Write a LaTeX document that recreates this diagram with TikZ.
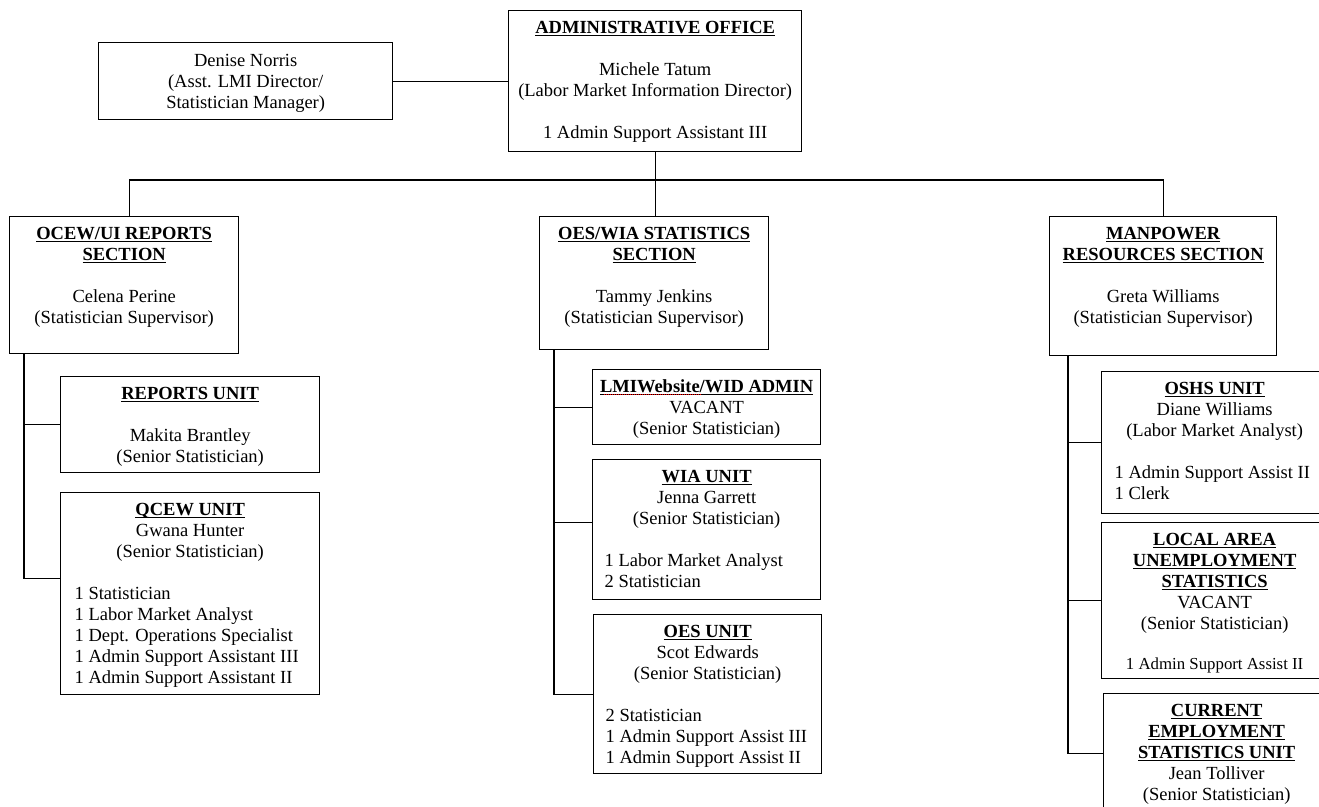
\documentclass[tikz,border=0pt]{standalone}
\usepackage{fontspec}
\setmainfont{Liberation Serif}

\newcommand{\unittitle}[1]{\textbf{\underline{\smash{#1}}}}
\newcommand{\orgtext}[4][8.4]{\parbox[c][#3pt][t]{#2pt}{\centering\vspace*{#1pt}\strut#4}}

\begin{document}
\begin{tikzpicture}[x=1pt, y=-1pt,
  orgbox/.style = {draw, line width=1.3pt, anchor=north west,
    inner sep=0pt, font={\fontsize{18.5}{21}\selectfont}},
  link/.style = {line width=1.3pt}]
  \useasboundingbox (0,0) rectangle (1319,806);
  \clip (0,0) rectangle (1319,806);

  % top
  \node[orgbox] (denise) at (98,42) {\orgtext[9.4]{294}{77}{Denise Norris\\
    (Asst. LMI Director/\\ Statistician Manager)}};
  \node[orgbox] (admin) at (508,10) {\orgtext{293}{141}{\unittitle{ADMINISTRATIVE OFFICE}\\[21pt]
    Michele Tatum\\ (Labor Market Information Director)\\[21pt]
    1 Admin Support Assistant III}};

  % sections
  \node[orgbox] (ocew) at (9,216) {\orgtext{229}{137}{\unittitle{OCEW/UI REPORTS}\\
    \unittitle{SECTION}\\[21pt] Celena Perine\\ (Statistician Supervisor)}};
  \node[orgbox] (oeswia) at (539,216) {\orgtext{229}{133}{\unittitle{OES/WIA STATISTICS}\\
    \unittitle{SECTION}\\[21pt] Tammy Jenkins\\ (Statistician Supervisor)}};
  \node[orgbox] (manpower) at (1049,216) {\orgtext{227}{139}{\unittitle{MANPOWER}\\
    \unittitle{RESOURCES SECTION}\\[21pt] Greta Williams\\ (Statistician Supervisor)}};

  % units, left
  \node[orgbox] (reports) at (60,376) {\orgtext{259}{96}{\unittitle{REPORTS UNIT}\\[21pt]
    Makita Brantley\\ (Senior Statistician)}};
  \node[orgbox] (qcew) at (60,492) {\orgtext{259}{202}{\unittitle{QCEW UNIT}\\
    Gwana Hunter\\ (Senior Statistician)\par\vspace{21pt}
    \raggedright\leftskip=14pt 1 Statistician\\ 1 Labor Market Analyst\\
    1 Dept. Operations Specialist\\ 1 Admin Support Assistant III\\
    1 Admin Support Assistant II}};

  % units, middle
  \node[orgbox] (lmi) at (592,369) {\orgtext{228}{75}{\unittitle{LMIWebsite/WID ADMIN}\\
    VACANT\\ (Senior Statistician)}};
  \node[orgbox] (wia) at (592,459) {\orgtext{228}{140}{\unittitle{WIA UNIT}\\
    Jenna Garrett\\ (Senior Statistician)\par\vspace{21pt}
    \raggedright\leftskip=12pt 1 Labor Market Analyst\\ 2 Statistician}};
  \node[orgbox] (oesunit) at (593,614) {\orgtext{228}{159}{\unittitle{OES UNIT}\\
    Scot Edwards\\ (Senior Statistician)\par\vspace{21pt}
    \raggedright\leftskip=12pt 2 Statistician\\ 1 Admin Support Assist III\\
    1 Admin Support Assist II}};
  \draw[red, densely dotted, line width=1pt] ([xshift=12pt,yshift=-25pt]lmi.north west) -- ++(98,0);

  % units, right
  \node[orgbox] (oshs) at (1101,371) {\orgtext{226}{142}{\unittitle{OSHS UNIT}\\
    Diane Williams\\ (Labor Market Analyst)\par\vspace{21pt}
    \raggedright\leftskip=13pt 1 Admin Support Assist II\\ 1 Clerk}};
  \node[orgbox] (laus) at (1101,522) {\orgtext{226}{156}{\unittitle{LOCAL AREA}\\
    \unittitle{UNEMPLOYMENT}\\ \unittitle{STATISTICS}\\ VACANT\\
    (Senior Statistician)\par\vspace{20.5pt}
    {\fontsize{16.8}{19}\selectfont 1 Admin Support Assist II\par}}};
  \node[orgbox] (ces) at (1103,693) {\orgtext{226}{120}{\unittitle{CURRENT}\\
    \unittitle{EMPLOYMENT}\\ \unittitle{STATISTICS UNIT}\\ Jean Tolliver\\
    (Senior Statistician)}};

  % connectors
  \coordinate (bus) at (654,180);
  \draw[link] (denise.east) -- (admin.west);
  \draw[link] (admin.south) -- (admin.south |- oeswia.north);
  \draw[link] ([xshift=5.5pt]ocew.north) |- (bus) -| (manpower.north);

  \draw[link] ([xshift=15pt]ocew.south west) |- (reports.west);
  \draw[link] ([xshift=15pt]ocew.south west) |- ([yshift=15pt]qcew.west);

  \draw[link] ([xshift=15pt]oeswia.south west) |- (lmi.west);
  \draw[link] ([xshift=15pt]oeswia.south west) |- ([yshift=7pt]wia.west);
  \draw[link] ([xshift=15pt]oeswia.south west) |- (oesunit.west);

  \draw[link] ([xshift=19pt]manpower.south west) |- (oshs.west);
  \draw[link] ([xshift=19pt]manpower.south west) |- (laus.west);
  \draw[link] ([xshift=19pt]manpower.south west) |- (ces.west);
\end{tikzpicture}
\end{document}
